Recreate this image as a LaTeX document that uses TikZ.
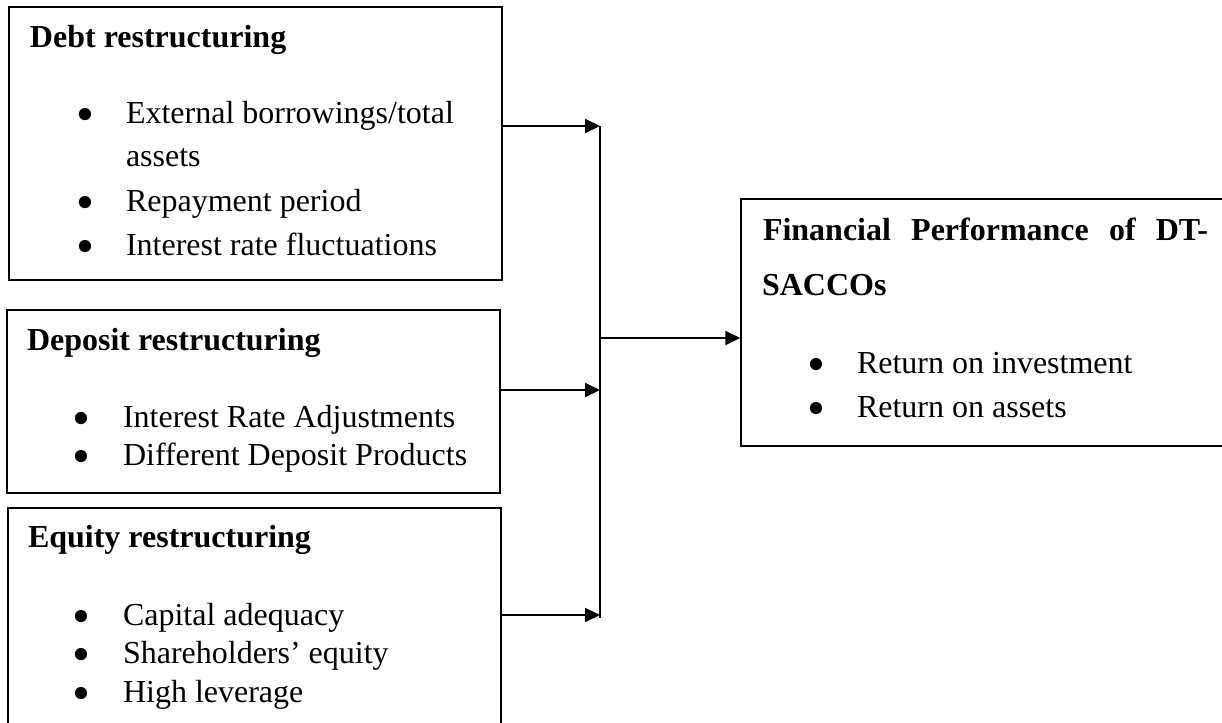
\documentclass[tikz,border=0pt]{standalone}
\usepackage{fontspec}
\setmainfont{Liberation Serif}
\usetikzlibrary{arrows.meta}
\tikzset{
  boxframe/.style={draw, line width=0.75pt},
  txt/.style={anchor=base west, inner sep=0pt, outer sep=0pt, font=\fontsize{16}{22}\selectfont},
  ttl/.style={txt, font=\fontsize{16}{22}\selectfont\bfseries},
  bul/.style={anchor=base, inner sep=0pt, outer sep=0pt, font=\fontsize{16}{22}\selectfont},
  feed/.style={line width=1pt, -{Triangle[length=7.5pt,width=7pt]}},
  busline/.style={line width=0.6pt},
}
\newcommand{\bulsym}{\smash{\raisebox{-4.3pt}{\scalebox{1.6}{\textbullet}}}}
\begin{document}
\begin{tikzpicture}[x=0.5pt,y=-0.5pt]
\clip (0,0) rectangle (1222,723);
% boxes
\node[boxframe, inner sep=0pt] (b1) at (255.5,143.5) [minimum width=246.5pt, minimum height=136.5pt] {};
\node[boxframe, inner sep=0pt] (b2) at (253.5,401.5) [minimum width=246.5pt, minimum height=91.5pt] {};
\node[boxframe, inner sep=0pt] (b3) at (254.5,619) [minimum width=246.5pt, minimum height=111pt] {};
\node[boxframe, inner sep=0pt] (fp) at (990.5,322.5) [minimum width=249.5pt, minimum height=123.5pt] {};
% box 1 text
\node[ttl] (t1) at (30,47) {Debt restructuring};
\node[bul] (p11) at (85,123) {\bulsym};
\node[txt] (l11) at (126,123) {External borrowings/total};
\node[txt] (l11b) at (126,166) {assets};
\node[bul] (p12) at (85,211) {\bulsym};
\node[txt] (l12) at (126,211) {Repayment period};
\node[bul] (p13) at (85,255) {\bulsym};
\node[txt] (l13) at (126,255) {Interest rate fluctuations};
% box 2 text
\node[ttl] (t2) at (27,350) {Deposit restructuring};
\node[bul] (p21) at (81,427) {\bulsym};
\node[txt] (l21) at (123,427) {Interest Rate Adjustments};
\node[bul] (p22) at (81,465) {\bulsym};
\node[txt] (l22) at (123,465) {Different Deposit Products};
% box 3 text
\node[ttl] (t3) at (28,547) {Equity restructuring};
\node[bul] (p31) at (81,625) {\bulsym};
\node[txt] (l31) at (123,625) {Capital adequacy};
\node[bul] (p32) at (81,663) {\bulsym};
\node[txt] (l32) at (123,663) {Shareholders’ equity};
\node[bul] (p33) at (81,702) {\bulsym};
\node[txt] (l33) at (123,702) {High leverage};
% right box text
\node[ttl] (t4) at (763,240) {\hbox to 222.5pt{Financial\hfil\ Performance\hfil\ of\hfil\ DT-}};
\node[ttl] (t4b) at (762,295) {SACCOs};
\node[bul] (p41) at (816,373) {\bulsym};
\node[txt] (l41) at (857,373) {Return on investment};
\node[bul] (p42) at (816,417) {\bulsym};
\node[txt] (l42) at (857,417) {Return on assets};
% connectors
\coordinate (j1) at (600,126);
\coordinate (j2) at (600,390);
\coordinate (j3) at (600,615);
\coordinate (jt) at (600,618);
\coordinate (jm) at (600,338);
\draw[busline] (j1) -- (jt);
\draw[feed] (b1.east |- j1) -- (j1);
\draw[feed] (b2.east |- j2) -- (j2);
\draw[feed] (b3.east |- j3) -- (j3);
\draw[feed] (jm) -- (fp.west |- jm);
\end{tikzpicture}
\end{document}
